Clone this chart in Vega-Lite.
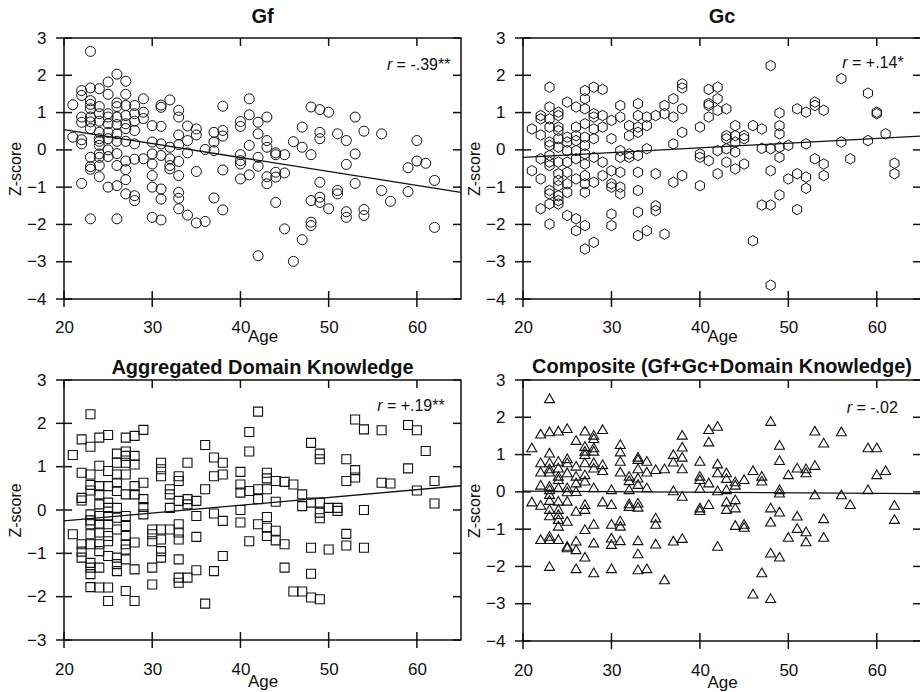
{
"$schema": "https://vega.github.io/schema/vega-lite/v6.json",
"padding": {"left": 6, "top": 6, "right": 0, "bottom": 0},
"config": {
 "font": "Liberation Sans",
 "view": {"stroke": "#111", "strokeWidth": 1.5},
 "axis": {"grid": false, "domain": false, "ticks": false, "labelFont": "Liberation Sans", "labelFontSize": 17, "labelColor": "#111", "titleFont": "Liberation Sans", "titleFontSize": 17, "titleFontWeight": "normal", "titleColor": "#111", "labelFlush": false, "labelOverlap": false, "titleBaseline": "alphabetic"},
 "axisY": {"titleFontSize": 16},
 "tick": {"color": "#111", "opacity": 1, "thickness": 1.5},
 "title": {"font": "Liberation Sans", "fontSize": 20, "fontWeight": "bold", "color": "#111", "baseline": "alphabetic", "frame": "group", "anchor": "middle"},
 "text": {"font": "Liberation Sans", "color": "#111"}
},
"datasets": {
 "tkx": [{"v":20},{"v":30},{"v":40},{"v":50},{"v":60}],
 "tky7": [{"v":-4},{"v":-3},{"v":-2},{"v":-1},{"v":0},{"v":1},{"v":2},{"v":3}],
 "tky6": [{"v":-3},{"v":-2},{"v":-1},{"v":0},{"v":1},{"v":2},{"v":3}],
 "ln": [
  {"p":"Gf","a":20,"z":0.54},{"p":"Gf","a":65,"z":-1.14},
  {"p":"Gc","a":20,"z":-0.2},{"p":"Gc","a":65,"z":0.37},
  {"p":"DK","a":20,"z":-0.25},{"p":"DK","a":65,"z":0.56},
  {"p":"CP","a":20,"z":0.02},{"p":"CP","a":65,"z":-0.05}
 ],
 "an": [
  {"p":"Gf","rx":56.6,"tx":57.7,"z":2.28,"t":"= -.39**"},
  {"p":"Gc","rx":56.1,"tx":57.2,"z":2.34,"t":"= +.14*"},
  {"p":"DK","rx":55.5,"tx":56.6,"z":2.41,"t":"= +.19**"},
  {"p":"CP","rx":56.6,"tx":57.7,"z":2.26,"t":"= -.02"}
 ],
 "gf": [
  {"a":21,"z":1.21},{"a":21,"z":0.34},
  {"a":22,"z":1.59},{"a":22,"z":1.46},{"a":22,"z":0.88},{"a":22,"z":0.74},{"a":22,"z":0.27},{"a":22,"z":0.16},{"a":22,"z":-0.9},
  {"a":23,"z":2.64},{"a":23,"z":1.66},{"a":23,"z":1.32},{"a":23,"z":1.22},{"a":23,"z":1.1},{"a":23,"z":0.88},{"a":23,"z":0.75},{"a":23,"z":0.57},{"a":23,"z":-0.2},{"a":23,"z":-0.45},{"a":23,"z":-0.52},{"a":23,"z":-1.85},
  {"a":24,"z":1.64},{"a":24,"z":1.16},{"a":24,"z":0.97},{"a":24,"z":0.77},{"a":24,"z":0.47},{"a":24,"z":0.3},{"a":24,"z":0.23},{"a":24,"z":0.12},{"a":24,"z":-0.11},{"a":24,"z":-0.2},{"a":24,"z":-0.42},{"a":24,"z":-0.72},
  {"a":25,"z":1.82},{"a":25,"z":1.49},{"a":25,"z":0.97},{"a":25,"z":0.88},{"a":25,"z":0.7},{"a":25,"z":0.47},{"a":25,"z":0.3},{"a":25,"z":0.0},{"a":25,"z":-0.18},{"a":25,"z":-1.0},
  {"a":26,"z":2.03},{"a":26,"z":1.26},{"a":26,"z":1.16},{"a":26,"z":0.88},{"a":26,"z":0.68},{"a":26,"z":0.43},{"a":26,"z":0.23},{"a":26,"z":-0.1},{"a":26,"z":-0.42},{"a":26,"z":-0.96},{"a":26,"z":-1.85},
  {"a":27,"z":1.84},{"a":27,"z":1.49},{"a":27,"z":1.19},{"a":27,"z":0.92},{"a":27,"z":0.7},{"a":27,"z":0.57},{"a":27,"z":0.23},{"a":27,"z":-0.3},{"a":27,"z":-0.53},{"a":27,"z":-0.8},{"a":27,"z":-1.18},
  {"a":28,"z":1.19},{"a":28,"z":0.97},{"a":28,"z":0.77},{"a":28,"z":0.52},{"a":28,"z":0.16},{"a":28,"z":-0.25},{"a":28,"z":-1.23},{"a":28,"z":-1.36},
  {"a":29,"z":1.37},{"a":29,"z":1.01},{"a":29,"z":0.84},{"a":29,"z":-0.24},
  {"a":30,"z":0.65},{"a":30,"z":0.21},{"a":30,"z":-0.11},{"a":30,"z":-0.38},{"a":30,"z":-0.69},{"a":30,"z":-1.0},{"a":30,"z":-1.81},
  {"a":31,"z":1.2},{"a":31,"z":1.14},{"a":31,"z":0.63},{"a":31,"z":0.16},{"a":31,"z":-0.15},{"a":31,"z":-1.05},{"a":31,"z":-1.32},{"a":31,"z":-1.88},
  {"a":32,"z":1.34},{"a":32,"z":0.07},{"a":32,"z":-0.24},{"a":32,"z":-0.42},{"a":32,"z":-0.51},
  {"a":33,"z":1.06},{"a":33,"z":0.88},{"a":33,"z":0.4},{"a":33,"z":0.14},{"a":33,"z":-0.31},{"a":33,"z":-0.69},{"a":33,"z":-1.14},{"a":33,"z":-1.3},{"a":33,"z":-1.58},
  {"a":34,"z":0.64},{"a":34,"z":0.25},{"a":34,"z":-0.08},{"a":34,"z":-1.75},
  {"a":35,"z":0.56},{"a":35,"z":0.4},{"a":35,"z":-0.58},{"a":35,"z":-1.96},
  {"a":36,"z":0.01},{"a":36,"z":-1.92},
  {"a":37,"z":0.47},{"a":37,"z":0.21},{"a":37,"z":-0.02},{"a":37,"z":-1.29},
  {"a":38,"z":1.17},{"a":38,"z":0.52},{"a":38,"z":0.37},{"a":38,"z":-0.54},{"a":38,"z":-1.61},
  {"a":40,"z":0.76},{"a":40,"z":0.63},{"a":40,"z":-0.13},{"a":40,"z":-0.29},{"a":40,"z":-0.38},{"a":40,"z":-0.78},
  {"a":41,"z":1.37},{"a":41,"z":0.94},{"a":41,"z":0.12},{"a":41,"z":-0.67},
  {"a":42,"z":0.74},{"a":42,"z":0.43},{"a":42,"z":-0.2},{"a":42,"z":-0.44},{"a":42,"z":-2.84},
  {"a":43,"z":0.88},{"a":43,"z":0.25},{"a":43,"z":0.07},{"a":43,"z":-0.72},{"a":43,"z":-0.91},
  {"a":44,"z":-0.08},{"a":44,"z":-0.13},{"a":44,"z":-0.6},{"a":44,"z":-0.73},{"a":44,"z":-1.41},
  {"a":45,"z":-0.13},{"a":45,"z":-0.62},{"a":45,"z":-2.12},
  {"a":46,"z":0.22},{"a":46,"z":-2.99},
  {"a":47,"z":0.61},{"a":47,"z":0.07},{"a":47,"z":-2.41},
  {"a":48,"z":1.15},{"a":48,"z":-0.13},{"a":48,"z":-1.36},{"a":48,"z":-1.94},{"a":48,"z":-2.03},
  {"a":49,"z":1.08},{"a":49,"z":0.47},{"a":49,"z":0.3},{"a":49,"z":-0.87},{"a":49,"z":-1.27},{"a":49,"z":-1.41},
  {"a":50,"z":1.01},{"a":50,"z":-1.58},
  {"a":51,"z":0.43},{"a":51,"z":-1.09},{"a":51,"z":-1.18},
  {"a":52,"z":0.25},{"a":52,"z":-0.39},{"a":52,"z":-1.66},{"a":52,"z":-1.81},
  {"a":53,"z":0.88},{"a":53,"z":-0.11},{"a":53,"z":-0.9},
  {"a":54,"z":0.5},{"a":54,"z":-1.6},{"a":54,"z":-1.76},
  {"a":56,"z":0.43},{"a":56,"z":-1.09},
  {"a":57,"z":-1.38},
  {"a":59,"z":-0.48},{"a":59,"z":-1.12},
  {"a":60,"z":0.25},{"a":60,"z":-0.3},
  {"a":61,"z":-0.36},
  {"a":62,"z":-0.82},{"a":62,"z":-2.08}
 ],
 "gc": [
  {"a":21,"z":0.56},{"a":21,"z":-0.56},
  {"a":22,"z":0.92},{"a":22,"z":0.83},{"a":22,"z":0.4},{"a":22,"z":-0.24},{"a":22,"z":-0.78},{"a":22,"z":-1.58},
  {"a":23,"z":1.68},{"a":23,"z":1.15},{"a":23,"z":0.83},{"a":23,"z":0.61},{"a":23,"z":0.21},{"a":23,"z":0.12},{"a":23,"z":-0.15},{"a":23,"z":-0.33},{"a":23,"z":-0.42},{"a":23,"z":-1.09},{"a":23,"z":-1.18},{"a":23,"z":-1.45},{"a":23,"z":-1.99},
  {"a":24,"z":1.01},{"a":24,"z":0.92},{"a":24,"z":0.61},{"a":24,"z":0.52},{"a":24,"z":0.3},{"a":24,"z":0.07},{"a":24,"z":-0.33},{"a":24,"z":-0.64},{"a":24,"z":-0.82},{"a":24,"z":-0.96},{"a":24,"z":-1.23},{"a":24,"z":-1.36},{"a":24,"z":-1.45},
  {"a":25,"z":1.28},{"a":25,"z":0.34},{"a":25,"z":0.21},{"a":25,"z":-0.02},{"a":25,"z":-0.33},{"a":25,"z":-0.6},{"a":25,"z":-0.91},{"a":25,"z":-1.14},{"a":25,"z":-1.76},
  {"a":26,"z":1.15},{"a":26,"z":0.61},{"a":26,"z":0.38},{"a":26,"z":0.25},{"a":26,"z":-0.02},{"a":26,"z":-0.24},{"a":26,"z":-0.78},{"a":26,"z":-1.85},{"a":26,"z":-2.17},
  {"a":27,"z":1.59},{"a":27,"z":1.37},{"a":27,"z":1.1},{"a":27,"z":0.7},{"a":27,"z":0.34},{"a":27,"z":0.12},{"a":27,"z":-0.11},{"a":27,"z":-0.38},{"a":27,"z":-0.69},{"a":27,"z":-0.91},{"a":27,"z":-1.14},{"a":27,"z":-2.03},{"a":27,"z":-2.66},
  {"a":28,"z":1.68},{"a":28,"z":0.97},{"a":28,"z":0.88},{"a":28,"z":0.56},{"a":28,"z":0.3},{"a":28,"z":-0.2},{"a":28,"z":-0.87},{"a":28,"z":-2.48},
  {"a":29,"z":1.62},{"a":29,"z":0.92},{"a":29,"z":0.61},{"a":29,"z":-0.33},{"a":29,"z":-0.69},
  {"a":30,"z":0.79},{"a":30,"z":0.3},{"a":30,"z":-0.56},{"a":30,"z":-0.91},{"a":30,"z":-1.0},{"a":30,"z":-1.72},{"a":30,"z":-2.03},
  {"a":31,"z":1.19},{"a":31,"z":0.88},{"a":31,"z":-0.02},{"a":31,"z":-0.2},{"a":31,"z":-0.6},{"a":31,"z":-1.0},{"a":31,"z":-1.18},
  {"a":32,"z":0.65},{"a":32,"z":0.38},{"a":32,"z":-0.11},{"a":32,"z":-0.2},
  {"a":33,"z":1.24},{"a":33,"z":0.92},{"a":33,"z":0.61},{"a":33,"z":0.47},{"a":33,"z":-0.15},{"a":33,"z":-0.6},{"a":33,"z":-1.09},{"a":33,"z":-1.67},{"a":33,"z":-2.3},
  {"a":34,"z":0.88},{"a":34,"z":0.65},{"a":34,"z":0.03},{"a":34,"z":-2.17},
  {"a":35,"z":0.92},{"a":35,"z":-0.64},{"a":35,"z":-1.5},{"a":35,"z":-1.63},
  {"a":36,"z":1.19},{"a":36,"z":0.97},{"a":36,"z":-2.26},
  {"a":37,"z":1.37},{"a":37,"z":0.88},{"a":37,"z":0.16},{"a":37,"z":-0.87},
  {"a":38,"z":1.77},{"a":38,"z":1.66},{"a":38,"z":1.1},{"a":38,"z":0.47},{"a":38,"z":-0.69},
  {"a":40,"z":0.61},{"a":40,"z":-0.11},{"a":40,"z":-0.2},{"a":40,"z":-0.96},
  {"a":41,"z":1.62},{"a":41,"z":1.24},{"a":41,"z":1.19},{"a":41,"z":0.88},{"a":41,"z":-0.29},
  {"a":42,"z":1.68},{"a":42,"z":1.37},{"a":42,"z":1.06},{"a":42,"z":-0.02},{"a":42,"z":-0.64},
  {"a":43,"z":1.1},{"a":43,"z":0.38},{"a":43,"z":0.3},{"a":43,"z":0.03},{"a":43,"z":-0.33},
  {"a":44,"z":0.65},{"a":44,"z":0.38},{"a":44,"z":0.21},{"a":44,"z":-0.06},{"a":44,"z":-0.51},
  {"a":45,"z":0.38},{"a":45,"z":0.3},{"a":45,"z":-0.38},
  {"a":46,"z":0.65},{"a":46,"z":-2.44},
  {"a":47,"z":0.56},{"a":47,"z":0.04},{"a":47,"z":-1.48},
  {"a":48,"z":2.26},{"a":48,"z":0.03},{"a":48,"z":-0.56},{"a":48,"z":-1.48},{"a":48,"z":-3.63},
  {"a":49,"z":0.99},{"a":49,"z":0.65},{"a":49,"z":0.43},{"a":49,"z":0.07},{"a":49,"z":-0.2},{"a":49,"z":-1.21},
  {"a":50,"z":0.12},{"a":50,"z":-0.78},
  {"a":51,"z":1.1},{"a":51,"z":-0.64},{"a":51,"z":-1.6},
  {"a":52,"z":1.01},{"a":52,"z":0.16},{"a":52,"z":-0.73},{"a":52,"z":-1.03},
  {"a":53,"z":1.28},{"a":53,"z":1.19},{"a":53,"z":-0.24},
  {"a":54,"z":1.06},{"a":54,"z":-0.38},{"a":54,"z":-0.69},
  {"a":56,"z":1.91},{"a":56,"z":0.21},
  {"a":57,"z":-0.24},
  {"a":59,"z":1.52},{"a":59,"z":0.25},
  {"a":60,"z":1.01},{"a":60,"z":0.97},
  {"a":61,"z":0.43},
  {"a":62,"z":-0.36},{"a":62,"z":-0.64}
 ],
 "dk": [
  {"a":21,"z":1.27},{"a":21,"z":-0.56},
  {"a":22,"z":1.63},{"a":22,"z":0.86},{"a":22,"z":0.28},{"a":22,"z":0.22},{"a":22,"z":-0.79},{"a":22,"z":-0.96},{"a":22,"z":-1.1},
  {"a":23,"z":2.21},{"a":23,"z":1.46},{"a":23,"z":0.82},{"a":23,"z":0.58},{"a":23,"z":0.45},{"a":23,"z":-0.1},{"a":23,"z":-0.24},{"a":23,"z":-0.33},{"a":23,"z":-0.56},{"a":23,"z":-0.79},{"a":23,"z":-1.22},{"a":23,"z":-1.33},{"a":23,"z":-1.48},{"a":23,"z":-1.78},
  {"a":24,"z":1.67},{"a":24,"z":1.02},{"a":24,"z":0.55},{"a":24,"z":0.36},{"a":24,"z":0.13},{"a":24,"z":-0.14},{"a":24,"z":-0.33},{"a":24,"z":-0.52},{"a":24,"z":-0.79},{"a":24,"z":-0.95},{"a":24,"z":-1.33},{"a":24,"z":-1.79},
  {"a":25,"z":1.73},{"a":25,"z":0.9},{"a":25,"z":0.55},{"a":25,"z":0.17},{"a":25,"z":0.05},{"a":25,"z":-0.14},{"a":25,"z":-0.33},{"a":25,"z":-0.6},{"a":25,"z":-0.72},{"a":25,"z":-1.06},{"a":25,"z":-1.79},{"a":25,"z":-2.1},
  {"a":26,"z":1.3},{"a":26,"z":1.09},{"a":26,"z":0.82},{"a":26,"z":0.63},{"a":26,"z":0.44},{"a":26,"z":0.05},{"a":26,"z":-0.18},{"a":26,"z":-0.45},{"a":26,"z":-1.1},{"a":26,"z":-1.25},{"a":26,"z":-1.41},
  {"a":27,"z":1.67},{"a":27,"z":1.35},{"a":27,"z":1.25},{"a":27,"z":1.09},{"a":27,"z":0.82},{"a":27,"z":0.36},{"a":27,"z":-0.14},{"a":27,"z":-0.37},{"a":27,"z":-0.6},{"a":27,"z":-0.79},{"a":27,"z":-0.91},{"a":27,"z":-1.14},{"a":27,"z":-1.87},
  {"a":28,"z":1.71},{"a":28,"z":1.25},{"a":28,"z":1.05},{"a":28,"z":0.55},{"a":28,"z":0.36},{"a":28,"z":-0.75},{"a":28,"z":-1.37},{"a":28,"z":-2.1},
  {"a":29,"z":1.85},{"a":29,"z":0.63},{"a":29,"z":0.25},{"a":29,"z":0.07},{"a":29,"z":-0.1},
  {"a":30,"z":-0.45},{"a":30,"z":-0.56},{"a":30,"z":-0.72},{"a":30,"z":-1.33},{"a":30,"z":-1.72},
  {"a":31,"z":1.09},{"a":31,"z":0.94},{"a":31,"z":0.78},{"a":31,"z":-0.45},{"a":31,"z":-0.68},{"a":31,"z":-0.95},{"a":31,"z":-1.1},
  {"a":32,"z":0.48},{"a":32,"z":0.36},{"a":32,"z":0.05},{"a":32,"z":-0.45},
  {"a":33,"z":0.78},{"a":33,"z":0.67},{"a":33,"z":0.21},{"a":33,"z":-0.33},{"a":33,"z":-0.52},{"a":33,"z":-0.68},{"a":33,"z":-1.14},{"a":33,"z":-1.56},{"a":33,"z":-1.68},
  {"a":34,"z":1.09},{"a":34,"z":0.25},{"a":34,"z":0.13},{"a":34,"z":-1.56},
  {"a":35,"z":0.21},{"a":35,"z":-0.14},{"a":35,"z":-0.62},{"a":35,"z":-1.39},
  {"a":36,"z":1.5},{"a":36,"z":0.48},{"a":36,"z":-2.16},
  {"a":37,"z":1.21},{"a":37,"z":0.78},{"a":37,"z":-0.08},{"a":37,"z":-1.41},
  {"a":38,"z":1.09},{"a":38,"z":0.82},{"a":38,"z":-0.25},{"a":38,"z":-1.06},
  {"a":40,"z":0.88},{"a":40,"z":0.59},{"a":40,"z":0.4},{"a":40,"z":0.0},{"a":40,"z":-0.29},
  {"a":41,"z":1.8},{"a":41,"z":1.35},{"a":41,"z":0.44},{"a":41,"z":-0.72},
  {"a":42,"z":2.27},{"a":42,"z":0.48},{"a":42,"z":0.25},{"a":42,"z":-0.33},
  {"a":43,"z":0.86},{"a":43,"z":0.73},{"a":43,"z":0.48},{"a":43,"z":-0.16},{"a":43,"z":-0.41},{"a":43,"z":-0.6},
  {"a":44,"z":0.67},{"a":44,"z":0.19},{"a":44,"z":-0.48},{"a":44,"z":-0.7},
  {"a":45,"z":0.65},{"a":45,"z":-0.79},{"a":45,"z":-1.33},
  {"a":46,"z":0.59},{"a":46,"z":-1.88},
  {"a":47,"z":0.36},{"a":47,"z":0.09},{"a":47,"z":-1.88},
  {"a":48,"z":1.55},{"a":48,"z":0.17},{"a":48,"z":-0.87},{"a":48,"z":-1.47},{"a":48,"z":-2.02},
  {"a":49,"z":1.3},{"a":49,"z":1.17},{"a":49,"z":0.17},{"a":49,"z":-0.06},{"a":49,"z":-0.19},{"a":49,"z":-2.06},
  {"a":50,"z":0.05},{"a":50,"z":-0.91},
  {"a":51,"z":0.05},{"a":51,"z":-0.02},
  {"a":52,"z":1.17},{"a":52,"z":0.67},{"a":52,"z":-0.55},{"a":52,"z":-0.82},
  {"a":53,"z":2.09},{"a":53,"z":0.92},{"a":53,"z":0.75},
  {"a":54,"z":1.86},{"a":54,"z":0.0},{"a":54,"z":-0.87},
  {"a":56,"z":1.84},{"a":56,"z":0.63},
  {"a":57,"z":0.61},
  {"a":59,"z":1.96},{"a":59,"z":0.96},
  {"a":60,"z":1.84},{"a":60,"z":0.45},
  {"a":61,"z":1.36},
  {"a":62,"z":0.67},{"a":62,"z":0.15}
 ],
 "cp": [
  {"a":21,"z":1.19},{"a":21,"z":-0.26},
  {"a":22,"z":1.56},{"a":22,"z":0.79},{"a":22,"z":0.54},{"a":22,"z":0.19},{"a":22,"z":-0.35},{"a":22,"z":-1.27},
  {"a":23,"z":2.51},{"a":23,"z":1.62},{"a":23,"z":1.05},{"a":23,"z":0.79},{"a":23,"z":0.63},{"a":23,"z":0.54},{"a":23,"z":0.16},{"a":23,"z":0.07},{"a":23,"z":-0.06},{"a":23,"z":-0.22},{"a":23,"z":-0.46},{"a":23,"z":-0.63},{"a":23,"z":-1.18},{"a":23,"z":-1.27},{"a":23,"z":-1.99},
  {"a":24,"z":1.64},{"a":24,"z":0.83},{"a":24,"z":0.65},{"a":24,"z":0.43},{"a":24,"z":0.34},{"a":24,"z":0.12},{"a":24,"z":-0.24},{"a":24,"z":-0.46},{"a":24,"z":-0.6},{"a":24,"z":-0.73},{"a":24,"z":-0.91},{"a":24,"z":-1.27},
  {"a":25,"z":1.71},{"a":25,"z":0.9},{"a":25,"z":0.79},{"a":25,"z":0.52},{"a":25,"z":0.12},{"a":25,"z":0.01},{"a":25,"z":-0.24},{"a":25,"z":-0.78},{"a":25,"z":-1.45},{"a":25,"z":-1.49},
  {"a":26,"z":1.39},{"a":26,"z":0.7},{"a":26,"z":0.43},{"a":26,"z":0.25},{"a":26,"z":0.02},{"a":26,"z":-0.51},{"a":26,"z":-1.31},{"a":26,"z":-1.54},{"a":26,"z":-2.05},
  {"a":27,"z":1.64},{"a":27,"z":1.23},{"a":27,"z":1.1},{"a":27,"z":1.01},{"a":27,"z":0.79},{"a":27,"z":0.47},{"a":27,"z":0.3},{"a":27,"z":-0.33},{"a":27,"z":-0.46},{"a":27,"z":-1.0},{"a":27,"z":-1.74},
  {"a":28,"z":1.53},{"a":28,"z":1.44},{"a":28,"z":1.19},{"a":28,"z":1.1},{"a":28,"z":0.79},{"a":28,"z":0.65},{"a":28,"z":0.12},{"a":28,"z":-0.86},{"a":28,"z":-1.36},{"a":28,"z":-2.16},
  {"a":29,"z":1.68},{"a":29,"z":0.74},{"a":29,"z":0.58},{"a":29,"z":-0.26},
  {"a":30,"z":0.07},{"a":30,"z":-0.33},{"a":30,"z":-0.86},{"a":30,"z":-1.23},{"a":30,"z":-1.4},{"a":30,"z":-2.05},
  {"a":31,"z":1.28},{"a":31,"z":1.08},{"a":31,"z":0.83},{"a":31,"z":0.54},{"a":31,"z":-0.77},{"a":31,"z":-0.91},{"a":31,"z":-1.3},
  {"a":32,"z":0.43},{"a":32,"z":0.31},{"a":32,"z":0.07},{"a":32,"z":-0.31},{"a":32,"z":-0.38},
  {"a":33,"z":0.94},{"a":33,"z":0.88},{"a":33,"z":0.63},{"a":33,"z":0.38},{"a":33,"z":0.21},{"a":33,"z":-0.29},{"a":33,"z":-0.4},{"a":33,"z":-1.3},{"a":33,"z":-1.65},{"a":33,"z":-2.08},
  {"a":34,"z":0.83},{"a":34,"z":0.54},{"a":34,"z":0.12},{"a":34,"z":-2.05},
  {"a":35,"z":0.61},{"a":35,"z":-0.69},{"a":35,"z":-0.86},{"a":35,"z":-1.39},
  {"a":36,"z":0.63},{"a":36,"z":-2.35},
  {"a":37,"z":1.01},{"a":37,"z":0.81},{"a":37,"z":0.04},{"a":37,"z":-1.31},
  {"a":38,"z":1.53},{"a":38,"z":1.21},{"a":38,"z":0.94},{"a":38,"z":0.63},{"a":38,"z":-0.11},{"a":38,"z":-1.24},
  {"a":40,"z":0.83},{"a":40,"z":0.43},{"a":40,"z":0.34},{"a":40,"z":0.1},{"a":40,"z":-0.42},{"a":40,"z":-0.49},
  {"a":41,"z":1.68},{"a":41,"z":1.35},{"a":41,"z":0.25},{"a":41,"z":-0.33},
  {"a":42,"z":1.77},{"a":42,"z":0.76},{"a":42,"z":0.52},{"a":42,"z":0.04},{"a":42,"z":-1.45},
  {"a":43,"z":0.52},{"a":43,"z":0.37},{"a":43,"z":0.07},{"a":43,"z":-0.26},{"a":43,"z":-0.46},
  {"a":44,"z":0.28},{"a":44,"z":0.19},{"a":44,"z":-0.2},{"a":44,"z":-0.42},{"a":44,"z":-0.89},
  {"a":45,"z":0.34},{"a":45,"z":-0.86},{"a":45,"z":-0.94},
  {"a":46,"z":0.58},{"a":46,"z":-2.73},
  {"a":47,"z":0.43},{"a":47,"z":0.3},{"a":47,"z":-2.16},
  {"a":48,"z":1.9},{"a":48,"z":-0.42},{"a":48,"z":-0.8},{"a":48,"z":-1.63},{"a":48,"z":-2.85},
  {"a":49,"z":1.26},{"a":49,"z":0.85},{"a":49,"z":0.07},{"a":49,"z":-0.02},{"a":49,"z":-0.53},{"a":49,"z":-1.74},
  {"a":50,"z":0.47},{"a":50,"z":-1.21},
  {"a":51,"z":0.65},{"a":51,"z":-0.64},{"a":51,"z":-0.97},
  {"a":52,"z":0.63},{"a":52,"z":0.52},{"a":52,"z":-1.06},{"a":52,"z":-1.33},
  {"a":53,"z":1.64},{"a":53,"z":0.72},{"a":53,"z":-0.07},
  {"a":54,"z":1.32},{"a":54,"z":-0.71},{"a":54,"z":-1.21},
  {"a":56,"z":1.62},{"a":56,"z":-0.07},
  {"a":57,"z":-0.33},
  {"a":59,"z":1.19},{"a":59,"z":0.07},
  {"a":60,"z":1.19},{"a":60,"z":0.47},
  {"a":61,"z":0.58},
  {"a":62,"z":-0.35},{"a":62,"z":-0.73}
 ]
},
"spacing": 11,
"vconcat": [
 {"spacing": 0, "hconcat": [
  {"width": 397, "height": 261, "title": {"text": "Gf", "offset": 2},
   "layer": [
    {"data": {"name": "gf"}, "mark": {"type": "point", "shape": "circle", "size": 100, "filled": false, "stroke": "#111", "strokeWidth": 1, "opacity": 1},
     "encoding": {
      "x": {"field": "a", "type": "quantitative", "scale": {"domain": [20, 65], "nice": false, "zero": false}, "axis": {"values": [20, 30, 40, 50, 60], "title": "Age", "labelPadding": 20, "titleY": 42}},
      "y": {"field": "z", "type": "quantitative", "scale": {"domain": [-4, 3], "nice": false, "zero": false}, "axis": {"values": [-4, -3, -2, -1, 0, 1, 2, 3], "title": "Z-score", "labelPadding": 18, "titleX": -44}}}},
    {"data": {"name": "ln"}, "transform": [{"filter": "datum.p == 'Gf'"}], "mark": {"type": "line", "color": "#111", "strokeWidth": 1.3},
     "encoding": {
      "x": {"field": "a", "type": "quantitative", "scale": {"domain": [20, 65], "nice": false, "zero": false}, "axis": {"values": [20, 30, 40, 50, 60], "title": "Age", "labelPadding": 20, "titleY": 42}},
      "y": {"field": "z", "type": "quantitative", "scale": {"domain": [-4, 3], "nice": false, "zero": false}, "axis": {"values": [-4, -3, -2, -1, 0, 1, 2, 3], "title": "Z-score", "labelPadding": 18, "titleX": -44}}}},
    {"data": {"name": "tkx"}, "mark": {"type": "tick", "orient": "vertical", "size": 16},
     "encoding": {
      "x": {"field": "v", "type": "quantitative", "scale": {"domain": [20, 65], "nice": false, "zero": false}, "axis": {"values": [20, 30, 40, 50, 60], "title": "Age", "labelPadding": 20, "titleY": 42}},
      "y": {"datum": -4, "type": "quantitative", "scale": {"domain": [-4, 3], "nice": false, "zero": false}, "axis": {"values": [-4, -3, -2, -1, 0, 1, 2, 3], "title": "Z-score", "labelPadding": 18, "titleX": -44}}}},
    {"data": {"name": "tkx"}, "mark": {"type": "tick", "orient": "vertical", "size": 8, "yOffset": 4},
     "encoding": {
      "x": {"field": "v", "type": "quantitative", "scale": {"domain": [20, 65], "nice": false, "zero": false}, "axis": {"values": [20, 30, 40, 50, 60], "title": "Age", "labelPadding": 20, "titleY": 42}},
      "y": {"datum": 3, "type": "quantitative", "scale": {"domain": [-4, 3], "nice": false, "zero": false}, "axis": {"values": [-4, -3, -2, -1, 0, 1, 2, 3], "title": "Z-score", "labelPadding": 18, "titleX": -44}}}},
    {"data": {"name": "tky7"}, "mark": {"type": "tick", "orient": "horizontal", "size": 16},
     "encoding": {
      "y": {"field": "v", "type": "quantitative", "scale": {"domain": [-4, 3], "nice": false, "zero": false}, "axis": {"values": [-4, -3, -2, -1, 0, 1, 2, 3], "title": "Z-score", "labelPadding": 18, "titleX": -44}},
      "x": {"datum": 20, "type": "quantitative", "scale": {"domain": [20, 65], "nice": false, "zero": false}, "axis": {"values": [20, 30, 40, 50, 60], "title": "Age", "labelPadding": 20, "titleY": 42}}}},
    {"data": {"name": "tky7"}, "mark": {"type": "tick", "orient": "horizontal", "size": 8, "xOffset": -4},
     "encoding": {
      "y": {"field": "v", "type": "quantitative", "scale": {"domain": [-4, 3], "nice": false, "zero": false}, "axis": {"values": [-4, -3, -2, -1, 0, 1, 2, 3], "title": "Z-score", "labelPadding": 18, "titleX": -44}},
      "x": {"datum": 65, "type": "quantitative", "scale": {"domain": [20, 65], "nice": false, "zero": false}, "axis": {"values": [20, 30, 40, 50, 60], "title": "Age", "labelPadding": 20, "titleY": 42}}}},
    {"data": {"name": "an"}, "transform": [{"filter": "datum.p == 'Gf'"}], "mark": {"type": "text", "text": "r", "fontStyle": "italic", "align": "left", "baseline": "middle", "fontSize": 16},
     "encoding": {
      "x": {"field": "rx", "type": "quantitative", "scale": {"domain": [20, 65], "nice": false, "zero": false}, "axis": {"values": [20, 30, 40, 50, 60], "title": "Age", "labelPadding": 20, "titleY": 42}},
      "y": {"field": "z", "type": "quantitative", "scale": {"domain": [-4, 3], "nice": false, "zero": false}, "axis": {"values": [-4, -3, -2, -1, 0, 1, 2, 3], "title": "Z-score", "labelPadding": 18, "titleX": -44}}}},
    {"data": {"name": "an"}, "transform": [{"filter": "datum.p == 'Gf'"}], "mark": {"type": "text", "align": "left", "baseline": "middle", "fontSize": 16},
     "encoding": {
      "x": {"field": "tx", "type": "quantitative", "scale": {"domain": [20, 65], "nice": false, "zero": false}, "axis": {"values": [20, 30, 40, 50, 60], "title": "Age", "labelPadding": 20, "titleY": 42}},
      "y": {"field": "z", "type": "quantitative", "scale": {"domain": [-4, 3], "nice": false, "zero": false}, "axis": {"values": [-4, -3, -2, -1, 0, 1, 2, 3], "title": "Z-score", "labelPadding": 18, "titleX": -44}},
      "text": {"field": "t"}}}
   ]},
  {"width": 398, "height": 261, "title": {"text": "Gc", "offset": 2},
   "layer": [
    {"data": {"name": "gc"}, "mark": {"type": "point", "shape": "M0,-1L0.866,-0.5L0.866,0.5L0,1L-0.866,0.5L-0.866,-0.5Z", "size": 110, "filled": false, "stroke": "#111", "strokeWidth": 1, "opacity": 1},
     "encoding": {
      "x": {"field": "a", "type": "quantitative", "scale": {"domain": [20, 65], "nice": false, "zero": false}, "axis": {"values": [20, 30, 40, 50, 60], "title": "Age", "labelPadding": 20, "titleY": 42}},
      "y": {"field": "z", "type": "quantitative", "scale": {"domain": [-4, 3], "nice": false, "zero": false}, "axis": {"values": [-4, -3, -2, -1, 0, 1, 2, 3], "title": "Z-score", "labelPadding": 18, "titleX": -44}}}},
    {"data": {"name": "ln"}, "transform": [{"filter": "datum.p == 'Gc'"}], "mark": {"type": "line", "color": "#111", "strokeWidth": 1.3},
     "encoding": {
      "x": {"field": "a", "type": "quantitative", "scale": {"domain": [20, 65], "nice": false, "zero": false}, "axis": {"values": [20, 30, 40, 50, 60], "title": "Age", "labelPadding": 20, "titleY": 42}},
      "y": {"field": "z", "type": "quantitative", "scale": {"domain": [-4, 3], "nice": false, "zero": false}, "axis": {"values": [-4, -3, -2, -1, 0, 1, 2, 3], "title": "Z-score", "labelPadding": 18, "titleX": -44}}}},
    {"data": {"name": "tkx"}, "mark": {"type": "tick", "orient": "vertical", "size": 16},
     "encoding": {
      "x": {"field": "v", "type": "quantitative", "scale": {"domain": [20, 65], "nice": false, "zero": false}, "axis": {"values": [20, 30, 40, 50, 60], "title": "Age", "labelPadding": 20, "titleY": 42}},
      "y": {"datum": -4, "type": "quantitative", "scale": {"domain": [-4, 3], "nice": false, "zero": false}, "axis": {"values": [-4, -3, -2, -1, 0, 1, 2, 3], "title": "Z-score", "labelPadding": 18, "titleX": -44}}}},
    {"data": {"name": "tkx"}, "mark": {"type": "tick", "orient": "vertical", "size": 8, "yOffset": 4},
     "encoding": {
      "x": {"field": "v", "type": "quantitative", "scale": {"domain": [20, 65], "nice": false, "zero": false}, "axis": {"values": [20, 30, 40, 50, 60], "title": "Age", "labelPadding": 20, "titleY": 42}},
      "y": {"datum": 3, "type": "quantitative", "scale": {"domain": [-4, 3], "nice": false, "zero": false}, "axis": {"values": [-4, -3, -2, -1, 0, 1, 2, 3], "title": "Z-score", "labelPadding": 18, "titleX": -44}}}},
    {"data": {"name": "tky7"}, "mark": {"type": "tick", "orient": "horizontal", "size": 16},
     "encoding": {
      "y": {"field": "v", "type": "quantitative", "scale": {"domain": [-4, 3], "nice": false, "zero": false}, "axis": {"values": [-4, -3, -2, -1, 0, 1, 2, 3], "title": "Z-score", "labelPadding": 18, "titleX": -44}},
      "x": {"datum": 20, "type": "quantitative", "scale": {"domain": [20, 65], "nice": false, "zero": false}, "axis": {"values": [20, 30, 40, 50, 60], "title": "Age", "labelPadding": 20, "titleY": 42}}}},
    {"data": {"name": "tky7"}, "mark": {"type": "tick", "orient": "horizontal", "size": 8, "xOffset": -4},
     "encoding": {
      "y": {"field": "v", "type": "quantitative", "scale": {"domain": [-4, 3], "nice": false, "zero": false}, "axis": {"values": [-4, -3, -2, -1, 0, 1, 2, 3], "title": "Z-score", "labelPadding": 18, "titleX": -44}},
      "x": {"datum": 65, "type": "quantitative", "scale": {"domain": [20, 65], "nice": false, "zero": false}, "axis": {"values": [20, 30, 40, 50, 60], "title": "Age", "labelPadding": 20, "titleY": 42}}}},
    {"data": {"name": "an"}, "transform": [{"filter": "datum.p == 'Gc'"}], "mark": {"type": "text", "text": "r", "fontStyle": "italic", "align": "left", "baseline": "middle", "fontSize": 16},
     "encoding": {
      "x": {"field": "rx", "type": "quantitative", "scale": {"domain": [20, 65], "nice": false, "zero": false}, "axis": {"values": [20, 30, 40, 50, 60], "title": "Age", "labelPadding": 20, "titleY": 42}},
      "y": {"field": "z", "type": "quantitative", "scale": {"domain": [-4, 3], "nice": false, "zero": false}, "axis": {"values": [-4, -3, -2, -1, 0, 1, 2, 3], "title": "Z-score", "labelPadding": 18, "titleX": -44}}}},
    {"data": {"name": "an"}, "transform": [{"filter": "datum.p == 'Gc'"}], "mark": {"type": "text", "align": "left", "baseline": "middle", "fontSize": 16},
     "encoding": {
      "x": {"field": "tx", "type": "quantitative", "scale": {"domain": [20, 65], "nice": false, "zero": false}, "axis": {"values": [20, 30, 40, 50, 60], "title": "Age", "labelPadding": 20, "titleY": 42}},
      "y": {"field": "z", "type": "quantitative", "scale": {"domain": [-4, 3], "nice": false, "zero": false}, "axis": {"values": [-4, -3, -2, -1, 0, 1, 2, 3], "title": "Z-score", "labelPadding": 18, "titleX": -44}},
      "text": {"field": "t"}}}
   ]}
 ]},
 {"spacing": 0, "hconcat": [
  {"width": 397, "height": 260, "title": {"text": "Aggregated Domain Knowledge", "offset": -7},
   "layer": [
    {"data": {"name": "dk"}, "mark": {"type": "point", "shape": "square", "size": 81, "filled": false, "stroke": "#111", "strokeWidth": 1.1, "opacity": 1},
     "encoding": {
      "x": {"field": "a", "type": "quantitative", "scale": {"domain": [20, 65], "nice": false, "zero": false}, "axis": {"values": [20, 30, 40, 50, 60], "title": "Age", "labelPadding": 21, "titleY": 46}},
      "y": {"field": "z", "type": "quantitative", "scale": {"domain": [-3, 3], "nice": false, "zero": false}, "axis": {"values": [-3, -2, -1, 0, 1, 2, 3], "title": "Z-score", "labelPadding": 18, "titleX": -44}}}},
    {"data": {"name": "ln"}, "transform": [{"filter": "datum.p == 'DK'"}], "mark": {"type": "line", "color": "#111", "strokeWidth": 1.3},
     "encoding": {
      "x": {"field": "a", "type": "quantitative", "scale": {"domain": [20, 65], "nice": false, "zero": false}, "axis": {"values": [20, 30, 40, 50, 60], "title": "Age", "labelPadding": 21, "titleY": 46}},
      "y": {"field": "z", "type": "quantitative", "scale": {"domain": [-3, 3], "nice": false, "zero": false}, "axis": {"values": [-3, -2, -1, 0, 1, 2, 3], "title": "Z-score", "labelPadding": 18, "titleX": -44}}}},
    {"data": {"name": "tkx"}, "mark": {"type": "tick", "orient": "vertical", "size": 16},
     "encoding": {
      "x": {"field": "v", "type": "quantitative", "scale": {"domain": [20, 65], "nice": false, "zero": false}, "axis": {"values": [20, 30, 40, 50, 60], "title": "Age", "labelPadding": 21, "titleY": 46}},
      "y": {"datum": -3, "type": "quantitative", "scale": {"domain": [-3, 3], "nice": false, "zero": false}, "axis": {"values": [-3, -2, -1, 0, 1, 2, 3], "title": "Z-score", "labelPadding": 18, "titleX": -44}}}},
    {"data": {"name": "tkx"}, "mark": {"type": "tick", "orient": "vertical", "size": 8, "yOffset": 4},
     "encoding": {
      "x": {"field": "v", "type": "quantitative", "scale": {"domain": [20, 65], "nice": false, "zero": false}, "axis": {"values": [20, 30, 40, 50, 60], "title": "Age", "labelPadding": 21, "titleY": 46}},
      "y": {"datum": 3, "type": "quantitative", "scale": {"domain": [-3, 3], "nice": false, "zero": false}, "axis": {"values": [-3, -2, -1, 0, 1, 2, 3], "title": "Z-score", "labelPadding": 18, "titleX": -44}}}},
    {"data": {"name": "tky6"}, "mark": {"type": "tick", "orient": "horizontal", "size": 16},
     "encoding": {
      "y": {"field": "v", "type": "quantitative", "scale": {"domain": [-3, 3], "nice": false, "zero": false}, "axis": {"values": [-3, -2, -1, 0, 1, 2, 3], "title": "Z-score", "labelPadding": 18, "titleX": -44}},
      "x": {"datum": 20, "type": "quantitative", "scale": {"domain": [20, 65], "nice": false, "zero": false}, "axis": {"values": [20, 30, 40, 50, 60], "title": "Age", "labelPadding": 21, "titleY": 46}}}},
    {"data": {"name": "tky6"}, "mark": {"type": "tick", "orient": "horizontal", "size": 8, "xOffset": -4},
     "encoding": {
      "y": {"field": "v", "type": "quantitative", "scale": {"domain": [-3, 3], "nice": false, "zero": false}, "axis": {"values": [-3, -2, -1, 0, 1, 2, 3], "title": "Z-score", "labelPadding": 18, "titleX": -44}},
      "x": {"datum": 65, "type": "quantitative", "scale": {"domain": [20, 65], "nice": false, "zero": false}, "axis": {"values": [20, 30, 40, 50, 60], "title": "Age", "labelPadding": 21, "titleY": 46}}}},
    {"data": {"name": "an"}, "transform": [{"filter": "datum.p == 'DK'"}], "mark": {"type": "text", "text": "r", "fontStyle": "italic", "align": "left", "baseline": "middle", "fontSize": 16},
     "encoding": {
      "x": {"field": "rx", "type": "quantitative", "scale": {"domain": [20, 65], "nice": false, "zero": false}, "axis": {"values": [20, 30, 40, 50, 60], "title": "Age", "labelPadding": 21, "titleY": 46}},
      "y": {"field": "z", "type": "quantitative", "scale": {"domain": [-3, 3], "nice": false, "zero": false}, "axis": {"values": [-3, -2, -1, 0, 1, 2, 3], "title": "Z-score", "labelPadding": 18, "titleX": -44}}}},
    {"data": {"name": "an"}, "transform": [{"filter": "datum.p == 'DK'"}], "mark": {"type": "text", "align": "left", "baseline": "middle", "fontSize": 16},
     "encoding": {
      "x": {"field": "tx", "type": "quantitative", "scale": {"domain": [20, 65], "nice": false, "zero": false}, "axis": {"values": [20, 30, 40, 50, 60], "title": "Age", "labelPadding": 21, "titleY": 46}},
      "y": {"field": "z", "type": "quantitative", "scale": {"domain": [-3, 3], "nice": false, "zero": false}, "axis": {"values": [-3, -2, -1, 0, 1, 2, 3], "title": "Z-score", "labelPadding": 18, "titleX": -44}},
      "text": {"field": "t"}}}
   ]},
  {"width": 398, "height": 261, "title": {"text": "Composite (Gf+Gc+Domain Knowledge)", "offset": -6},
   "layer": [
    {"data": {"name": "cp"}, "mark": {"type": "point", "shape": "triangle-up", "size": 100, "filled": false, "stroke": "#111", "strokeWidth": 1.1, "opacity": 1},
     "encoding": {
      "x": {"field": "a", "type": "quantitative", "scale": {"domain": [20, 65], "nice": false, "zero": false}, "axis": {"values": [20, 30, 40, 50, 60], "title": "Age", "labelPadding": 21, "titleY": 46}},
      "y": {"field": "z", "type": "quantitative", "scale": {"domain": [-4, 3], "nice": false, "zero": false}, "axis": {"values": [-4, -3, -2, -1, 0, 1, 2, 3], "title": "Z-score", "labelPadding": 18, "titleX": -44}}}},
    {"data": {"name": "ln"}, "transform": [{"filter": "datum.p == 'CP'"}], "mark": {"type": "line", "color": "#111", "strokeWidth": 1.3},
     "encoding": {
      "x": {"field": "a", "type": "quantitative", "scale": {"domain": [20, 65], "nice": false, "zero": false}, "axis": {"values": [20, 30, 40, 50, 60], "title": "Age", "labelPadding": 21, "titleY": 46}},
      "y": {"field": "z", "type": "quantitative", "scale": {"domain": [-4, 3], "nice": false, "zero": false}, "axis": {"values": [-4, -3, -2, -1, 0, 1, 2, 3], "title": "Z-score", "labelPadding": 18, "titleX": -44}}}},
    {"data": {"name": "tkx"}, "mark": {"type": "tick", "orient": "vertical", "size": 16},
     "encoding": {
      "x": {"field": "v", "type": "quantitative", "scale": {"domain": [20, 65], "nice": false, "zero": false}, "axis": {"values": [20, 30, 40, 50, 60], "title": "Age", "labelPadding": 21, "titleY": 46}},
      "y": {"datum": -4, "type": "quantitative", "scale": {"domain": [-4, 3], "nice": false, "zero": false}, "axis": {"values": [-4, -3, -2, -1, 0, 1, 2, 3], "title": "Z-score", "labelPadding": 18, "titleX": -44}}}},
    {"data": {"name": "tkx"}, "mark": {"type": "tick", "orient": "vertical", "size": 8, "yOffset": 4},
     "encoding": {
      "x": {"field": "v", "type": "quantitative", "scale": {"domain": [20, 65], "nice": false, "zero": false}, "axis": {"values": [20, 30, 40, 50, 60], "title": "Age", "labelPadding": 21, "titleY": 46}},
      "y": {"datum": 3, "type": "quantitative", "scale": {"domain": [-4, 3], "nice": false, "zero": false}, "axis": {"values": [-4, -3, -2, -1, 0, 1, 2, 3], "title": "Z-score", "labelPadding": 18, "titleX": -44}}}},
    {"data": {"name": "tky7"}, "mark": {"type": "tick", "orient": "horizontal", "size": 16},
     "encoding": {
      "y": {"field": "v", "type": "quantitative", "scale": {"domain": [-4, 3], "nice": false, "zero": false}, "axis": {"values": [-4, -3, -2, -1, 0, 1, 2, 3], "title": "Z-score", "labelPadding": 18, "titleX": -44}},
      "x": {"datum": 20, "type": "quantitative", "scale": {"domain": [20, 65], "nice": false, "zero": false}, "axis": {"values": [20, 30, 40, 50, 60], "title": "Age", "labelPadding": 21, "titleY": 46}}}},
    {"data": {"name": "tky7"}, "mark": {"type": "tick", "orient": "horizontal", "size": 8, "xOffset": -4},
     "encoding": {
      "y": {"field": "v", "type": "quantitative", "scale": {"domain": [-4, 3], "nice": false, "zero": false}, "axis": {"values": [-4, -3, -2, -1, 0, 1, 2, 3], "title": "Z-score", "labelPadding": 18, "titleX": -44}},
      "x": {"datum": 65, "type": "quantitative", "scale": {"domain": [20, 65], "nice": false, "zero": false}, "axis": {"values": [20, 30, 40, 50, 60], "title": "Age", "labelPadding": 21, "titleY": 46}}}},
    {"data": {"name": "an"}, "transform": [{"filter": "datum.p == 'CP'"}], "mark": {"type": "text", "text": "r", "fontStyle": "italic", "align": "left", "baseline": "middle", "fontSize": 16},
     "encoding": {
      "x": {"field": "rx", "type": "quantitative", "scale": {"domain": [20, 65], "nice": false, "zero": false}, "axis": {"values": [20, 30, 40, 50, 60], "title": "Age", "labelPadding": 21, "titleY": 46}},
      "y": {"field": "z", "type": "quantitative", "scale": {"domain": [-4, 3], "nice": false, "zero": false}, "axis": {"values": [-4, -3, -2, -1, 0, 1, 2, 3], "title": "Z-score", "labelPadding": 18, "titleX": -44}}}},
    {"data": {"name": "an"}, "transform": [{"filter": "datum.p == 'CP'"}], "mark": {"type": "text", "align": "left", "baseline": "middle", "fontSize": 16},
     "encoding": {
      "x": {"field": "tx", "type": "quantitative", "scale": {"domain": [20, 65], "nice": false, "zero": false}, "axis": {"values": [20, 30, 40, 50, 60], "title": "Age", "labelPadding": 21, "titleY": 46}},
      "y": {"field": "z", "type": "quantitative", "scale": {"domain": [-4, 3], "nice": false, "zero": false}, "axis": {"values": [-4, -3, -2, -1, 0, 1, 2, 3], "title": "Z-score", "labelPadding": 18, "titleX": -44}},
      "text": {"field": "t"}}}
   ]}
 ]}
]
}
